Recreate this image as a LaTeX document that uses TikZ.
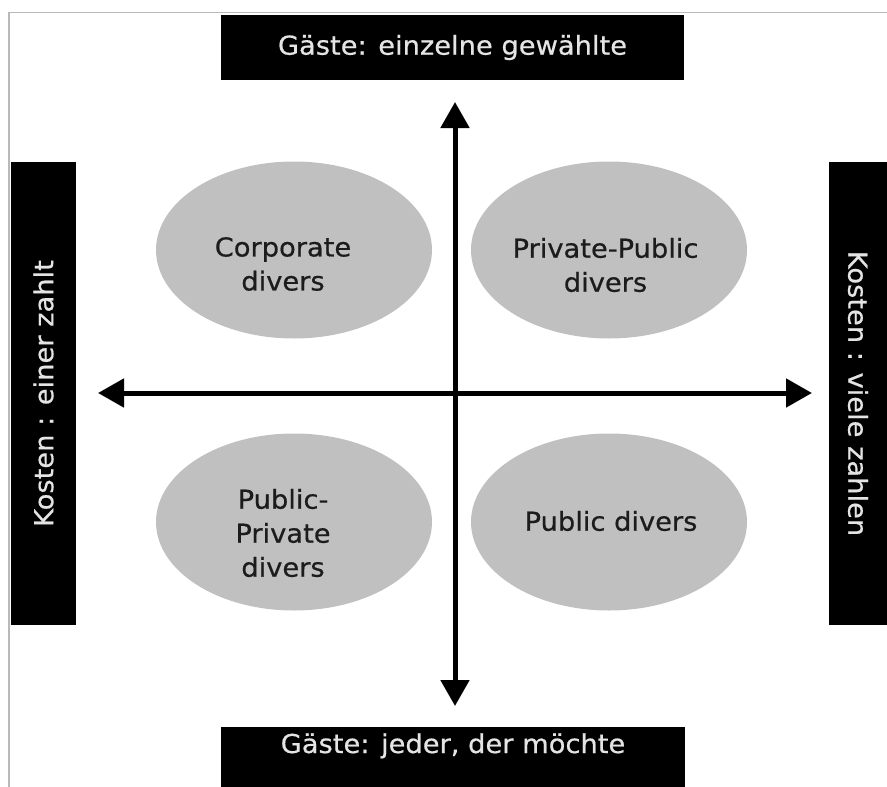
\documentclass[tikz,border=0pt]{standalone}
\usepackage{fontspec}
\setmainfont[FakeStretch=1.05, FakeBold=0.6]{DejaVu Sans}
\usetikzlibrary{shapes.geometric, arrows.meta}
\definecolor{bubblegray}{RGB}{192, 192, 192}
\definecolor{framegray}{RGB}{185, 185, 185}
\definecolor{bartext}{RGB}{228, 228, 228}
\definecolor{bubbletext}{RGB}{28, 28, 28}
\tikzstyle{banner} = [rectangle, fill=black, text=bartext, inner sep=0pt,
                      font=\fontsize{26}{30}\selectfont]
\tikzstyle{bubble} = [ellipse, fill=bubblegray, inner sep=0pt,
                      minimum width=276pt, minimum height=177pt]
\tikzstyle{caption} = [align=center, text=bubbletext,
                       font=\fontsize{26}{34}\selectfont]
\tikzstyle{arrowaxis} = [line width=5pt,
                         {Triangle[length=26pt,width=28pt]}-{Triangle[length=26pt,width=28pt]}]

\begin{document}
\begin{tikzpicture}[x=1pt, y=-1pt]
        \useasboundingbox (0,0) rectangle (887,787);
        \draw [framegray, line width=1.2pt] (9,787) -- (9,12.5) -- (887,12.5);

        %Guest bars
        \node (Chosen) [banner, minimum width=463pt, minimum height=65pt] at (452.5,47.5) {Gäste: einzelne gewählte};
        \node (Anyone) [banner, minimum width=464pt, minimum height=60pt, text height=19pt, text depth=27pt] at (453,757) {Gäste: jeder, der möchte};

        %Cost bars
        \node (OnePays) [banner, rotate=90, minimum width=463pt, minimum height=65pt] at (43.5,393.5) {Kosten : einer zahlt};
        \node (ManyPay) [banner, rotate=-90, minimum width=463pt, minimum height=58pt] at (858,393.5) {Kosten : viele zahlen};

        %Quadrants
        \node (Corporate) [bubble] at (294,250) {};
        \node (PrivPublic) [bubble] at (609,250) {};
        \node (PubPrivate) [bubble] at (294,522) {};
        \node (Public) [bubble] at (609,522) {};

        \node (CorporateText) [caption] at (283,264) {Corporate\\divers};
        \node (PrivPublicText) [caption] at (605.5,265) {Private-Public\\divers};
        \node (PubPrivateText) [caption] at (283,533) {Public-\\Private\\divers};
        \node (PublicText) [caption] at (611,521) {Public divers};

        %Axes
        \coordinate (Top) at (455,102);
        \coordinate (Bottom) at (455,706);
        \coordinate (Left) at (98,393);
        \coordinate (Right) at (812,393);
        \draw [arrowaxis] (Left) -- (Right);
        \draw [arrowaxis] (Top) -- (Bottom);

\end{tikzpicture}
\end{document}
